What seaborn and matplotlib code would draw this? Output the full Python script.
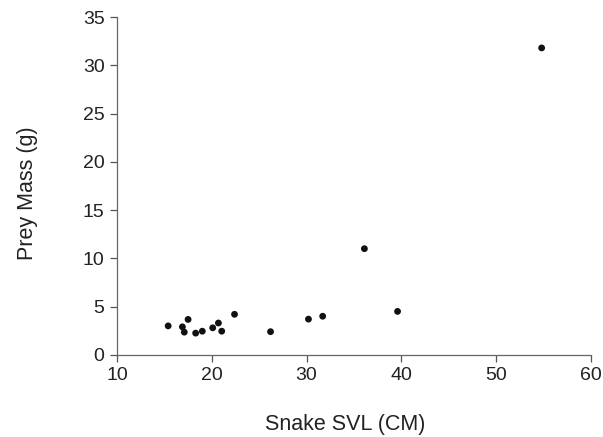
import pandas as pd
import matplotlib.pyplot as plt
import seaborn as sns

svl = [15.4, 16.9, 17.1, 17.5, 18.3, 19.0, 20.1, 20.7, 21.05, 22.4, 26.2, 30.2, 31.7, 36.1, 39.6, 54.8]
mass = [3.0, 2.9, 2.35, 3.67, 2.25, 2.45, 2.8, 3.3, 2.45, 4.2, 2.4, 3.7, 4.0, 11.0, 4.5, 31.8]
x_ticks = [10, 20, 30, 40, 50, 60]
y_ticks = [0, 5, 10, 15, 20, 25, 30, 35]

df = pd.DataFrame({'svl': svl, 'mass': mass})

sns.set_theme(style="ticks")
plt.rcParams['font.family'] = ['Liberation Sans', 'DejaVu Sans']

fig = plt.figure(figsize=(6.03, 4.37), dpi=100)
ax = fig.add_axes([0.194, 0.188, 0.786, 0.773])
sns.scatterplot(data=df, x='svl', y='mass', color='#111111', s=24, edgecolor='none', ax=ax)

ax.set_xlim(10, 60)
ax.set_ylim(0, 35)
ax.set_xticks(x_ticks)
ax.set_yticks(y_ticks)
ax.tick_params(labelsize=14, length=5, width=0.9, colors='#555555', labelcolor='#222222', pad=4)
ax.set_xlabel('Snake SVL (CM)', fontsize=15.5, color='#222222', labelpad=21)
ax.set_ylabel('Prey Mass (g)', fontsize=15.5, color='#222222', labelpad=32)
# labels sit a little off-centre in the original
ax.xaxis.label.set_x(0.482)
ax.yaxis.label.set_y(0.479)
for side in ['top', 'right']:
    ax.spines[side].set_visible(False)
for side in ['left', 'bottom']:
    ax.spines[side].set_color('#666666')
    ax.spines[side].set_linewidth(0.9)

fig.savefig('out.png', dpi=100)
